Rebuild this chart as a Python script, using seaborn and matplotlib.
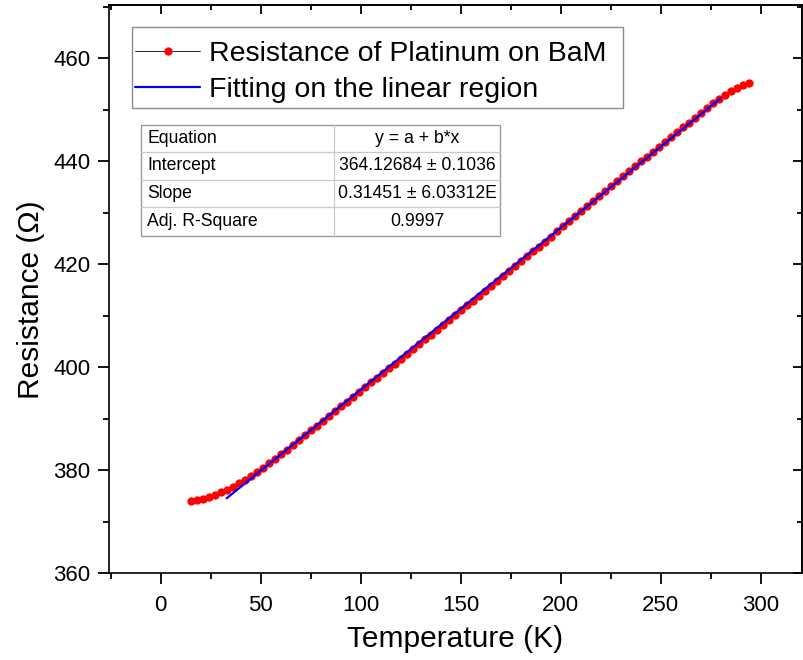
import matplotlib
matplotlib.use("Agg")
import matplotlib.pyplot as plt
import seaborn as sns
from matplotlib.lines import Line2D
from matplotlib.ticker import MultipleLocator

# Measured resistance of the platinum thermometer on BaM
temperature_K = [
    15, 18, 21, 24, 27, 30, 33, 36, 39, 42, 45, 48, 51, 54, 57, 60,
    63, 66, 69, 72, 75, 78, 81, 84, 87, 90, 93, 96, 99, 102, 105, 108,
    111, 114, 117, 120, 123, 126, 129, 132, 135, 138, 141, 144, 147, 150,
    153, 156, 159, 162, 165, 168, 171, 174, 177, 180, 183, 186, 189, 192,
    195, 198, 201, 204, 207, 210, 213, 216, 219, 222, 225, 228, 231, 234,
    237, 240, 243, 246, 249, 252, 255, 258, 261, 264, 267, 270, 273, 276,
    279, 282, 285, 288, 291, 294,
]
resistance_ohm = [
    374.00, 374.15, 374.40, 374.74, 375.15, 375.64, 376.19, 376.79,
    377.45, 378.14, 378.87, 379.63, 380.42, 381.27, 382.15, 383.05,
    383.97, 384.90, 385.83, 386.76, 387.70, 388.63, 389.56, 390.49,
    391.42, 392.35, 393.28, 394.21, 395.15, 396.08, 397.00, 397.92,
    398.84, 399.76, 400.68, 401.61, 402.54, 403.47, 404.41, 405.35,
    406.29, 407.23, 408.17, 409.12, 410.06, 411.01, 411.95, 412.90,
    413.85, 414.80, 415.75, 416.70, 417.65, 418.61, 419.57, 420.52,
    421.48, 422.44, 423.40, 424.37, 425.34, 426.32, 427.29, 428.27,
    429.25, 430.23, 431.21, 432.19, 433.17, 434.15, 435.11, 436.07,
    437.03, 437.99, 438.95, 439.91, 440.87, 441.82, 442.76, 443.71,
    444.65, 445.59, 446.53, 447.47, 448.41, 449.35, 450.28, 451.21,
    452.14, 452.90, 453.58, 454.20, 454.75, 455.25,
]

# Linear fit y = a + b*x over the linear region
fit_intercept = 364.12684
fit_slope = 0.31451
fit_range_K = [33.0, 280.0]
fit_resistance = [fit_intercept + fit_slope * t for t in fit_range_K]

table_rows = [
    ("Equation", "y = a + b*x"),
    ("Intercept", "364.12684 \u00b1 0.1036"),
    ("Slope", "0.31451 \u00b1 6.03312E"),
    ("Adj. R-Square", "0.9997"),
]

x_ticks = [0, 50, 100, 150, 200, 250, 300]
y_ticks = [360, 380, 400, 420, 440, 460]

sns.set_theme(style="ticks")
plt.rcParams["font.family"] = ["Liberation Sans", "DejaVu Sans"]
plt.rcParams.update({
    "text.color": "black",
    "axes.labelcolor": "black",
    "xtick.color": "black",
    "ytick.color": "black",
    "axes.edgecolor": "black",
    "axes.linewidth": 1.2,
})

fig = plt.figure(figsize=(8.04, 6.6), dpi=100)
ax = fig.add_axes([109 / 804, 87 / 660, 693 / 804, 568 / 660])

sns.lineplot(x=temperature_K, y=resistance_ohm, ax=ax, color="black",
             linewidth=0.6, marker="o", markersize=5.2,
             markerfacecolor="red", markeredgecolor="red",
             label="Resistance of Platinum on BaM", zorder=2)
sns.lineplot(x=fit_range_K, y=fit_resistance, ax=ax, color="#0000ff",
             linewidth=1.6, label="Fitting on the linear region", zorder=3)

ax.set_xlim(-25.8, 320.7)
ax.set_ylim(360, 470.3)
ax.set_xticks(x_ticks)
ax.set_yticks(y_ticks)
ax.xaxis.set_minor_locator(MultipleLocator(25))
ax.yaxis.set_minor_locator(MultipleLocator(10))
ax.tick_params(which="both", direction="out", width=1.3,
               labelsize=16, top=False, right=False)
ax.tick_params(which="major", length=7.8)
ax.tick_params(which="minor", length=4.1)
ax.tick_params(axis="y", which="major", pad=5.5)
ax.tick_params(axis="x", which="major", pad=8)

# inward ticks on the top and right frame
top = ax.secondary_xaxis("top")
top.set_xticks(x_ticks)
top.xaxis.set_minor_locator(MultipleLocator(25))
top.tick_params(which="both", direction="in", labeltop=False, width=1.3)
top.tick_params(which="major", length=6.5)
top.tick_params(which="minor", length=3.5)
right = ax.secondary_yaxis("right")
right.set_yticks(y_ticks)
right.yaxis.set_minor_locator(MultipleLocator(10))
right.tick_params(which="both", direction="in", labelright=False, width=1.3)
right.tick_params(which="major", length=6.5)
right.tick_params(which="minor", length=3.5)

ax.set_xlabel("Temperature (K)", fontsize=21.5, labelpad=6.5)
ax.set_ylabel("Resistance (\u03a9)", fontsize=21.5)
ax.yaxis.set_label_coords(-0.0927, 0.481)

leg = ax.legend(loc="upper left", bbox_to_anchor=(0.0375, 0.9366),
                borderaxespad=0, borderpad=0, fontsize=20.5, frameon=False,
                handlelength=2.3, handletextpad=0.3, labelspacing=0.34)
# legend frame
ax.add_patch(plt.Rectangle((0.0328, 0.8181), 0.7089, 0.1432,
                           transform=ax.transAxes, facecolor="none",
                           edgecolor="#8c8c8c", linewidth=1.0, zorder=4))

# fit results table
tx0, tx1, txm = 0.0462, 0.5642, 0.3247
row_y = [0.7887, 0.7412, 0.6919, 0.6444, 0.5933]
ax.add_patch(plt.Rectangle((tx0, row_y[-1]), tx1 - tx0, row_y[0] - row_y[-1],
                           transform=ax.transAxes, facecolor="white",
                           edgecolor="#9a9a9a", linewidth=1.0, zorder=4))
for yv in row_y[1:-1]:
    ax.add_line(Line2D([tx0, tx1], [yv, yv], transform=ax.transAxes,
                       color="#c8c8c8", linewidth=0.9, zorder=5))
ax.add_line(Line2D([txm, txm], [row_y[-1], row_y[0]], transform=ax.transAxes,
                   color="#c8c8c8", linewidth=0.9, zorder=5))
for i, (name, value) in enumerate(table_rows):
    yc = (row_y[i] + row_y[i + 1]) / 2
    ax.text(tx0 + 0.0088, yc, name, transform=ax.transAxes, fontsize=12.7,
            ha="left", va="center", zorder=6)
    ax.text((txm + tx1) / 2, yc, value, transform=ax.transAxes,
            fontsize=12.7, ha="center", va="center", zorder=6)

fig.savefig("out.png", dpi=100)
